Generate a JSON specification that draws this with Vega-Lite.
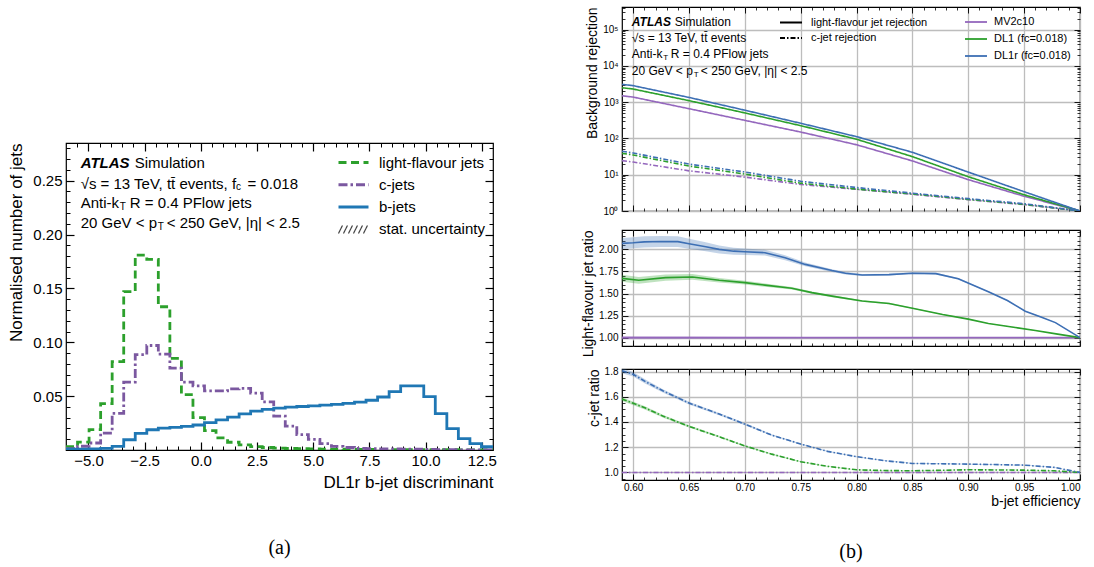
{
"$schema": "https://vega.github.io/schema/vega-lite/v6.json",
"background": "white",
"padding": {"left": 7, "top": 5, "right": 5, "bottom": 5},
"datasets": {
"hist": [
{"x": -6, "light-flavour jets": 0.003, "c-jets": 0.0012, "b-jets": 0.0008},
{"x": -5.486, "light-flavour jets": 0.0074, "c-jets": 0.0035, "b-jets": 0.0008},
{"x": -4.973, "light-flavour jets": 0.019, "c-jets": 0.0065, "b-jets": 0.001},
{"x": -4.459, "light-flavour jets": 0.043, "c-jets": 0.0157, "b-jets": 0.0015},
{"x": -3.946, "light-flavour jets": 0.082, "c-jets": 0.034, "b-jets": 0.0034},
{"x": -3.432, "light-flavour jets": 0.147, "c-jets": 0.063, "b-jets": 0.0095},
{"x": -2.919, "light-flavour jets": 0.181, "c-jets": 0.0886, "b-jets": 0.0155},
{"x": -2.405, "light-flavour jets": 0.177, "c-jets": 0.097, "b-jets": 0.0188},
{"x": -1.892, "light-flavour jets": 0.133, "c-jets": 0.089, "b-jets": 0.0203},
{"x": -1.378, "light-flavour jets": 0.085, "c-jets": 0.076, "b-jets": 0.021},
{"x": -0.865, "light-flavour jets": 0.0515, "c-jets": 0.063, "b-jets": 0.022},
{"x": -0.351, "light-flavour jets": 0.030, "c-jets": 0.0595, "b-jets": 0.0232},
{"x": 0.162, "light-flavour jets": 0.018, "c-jets": 0.0548, "b-jets": 0.0255},
{"x": 0.676, "light-flavour jets": 0.0113, "c-jets": 0.0548, "b-jets": 0.028},
{"x": 1.189, "light-flavour jets": 0.0072, "c-jets": 0.0568, "b-jets": 0.0306},
{"x": 1.703, "light-flavour jets": 0.0047, "c-jets": 0.0572, "b-jets": 0.0336},
{"x": 2.216, "light-flavour jets": 0.0031, "c-jets": 0.0528, "b-jets": 0.036},
{"x": 2.73, "light-flavour jets": 0.0023, "c-jets": 0.0447, "b-jets": 0.0378},
{"x": 3.243, "light-flavour jets": 0.0018, "c-jets": 0.0315, "b-jets": 0.0389},
{"x": 3.757, "light-flavour jets": 0.0014, "c-jets": 0.0222, "b-jets": 0.0398},
{"x": 4.27, "light-flavour jets": 0.0012, "c-jets": 0.0143, "b-jets": 0.0404},
{"x": 4.784, "light-flavour jets": 0.001, "c-jets": 0.0098, "b-jets": 0.041},
{"x": 5.297, "light-flavour jets": 0.0009, "c-jets": 0.0059, "b-jets": 0.0417},
{"x": 5.811, "light-flavour jets": 0.0008, "c-jets": 0.0034, "b-jets": 0.0423},
{"x": 6.324, "light-flavour jets": 0.0007, "c-jets": 0.0023, "b-jets": 0.0432},
{"x": 6.838, "light-flavour jets": 0.0006, "c-jets": 0.0016, "b-jets": 0.0445},
{"x": 7.351, "light-flavour jets": 0.0005, "c-jets": 0.0013, "b-jets": 0.0462},
{"x": 7.865, "light-flavour jets": 0.0005, "c-jets": 0.0011, "b-jets": 0.0492},
{"x": 8.378, "light-flavour jets": 0.0004, "c-jets": 0.001, "b-jets": 0.0542},
{"x": 8.892, "light-flavour jets": 0.0004, "c-jets": 0.0009, "b-jets": 0.0596},
{"x": 9.405, "light-flavour jets": 0.0004, "c-jets": 0.0008, "b-jets": 0.0596},
{"x": 9.919, "light-flavour jets": 0.0003, "c-jets": 0.0006, "b-jets": 0.0495},
{"x": 10.432, "light-flavour jets": 0.0003, "c-jets": 0.0004, "b-jets": 0.0338},
{"x": 10.946, "light-flavour jets": 0.0003, "c-jets": 0.0003, "b-jets": 0.0198},
{"x": 11.459, "light-flavour jets": 0.0002, "c-jets": 0.0002, "b-jets": 0.0105},
{"x": 11.973, "light-flavour jets": 0.0002, "c-jets": 0.0002, "b-jets": 0.006},
{"x": 12.486, "light-flavour jets": 0.0002, "c-jets": 0.0001, "b-jets": 0.003},
{"x": 13, "light-flavour jets": 0.0002, "c-jets": 0.0001, "b-jets": 0.003}
],
"rej": [
{"eff": 0.59, "tagger": "MV2c10", "light-flavour jet rejection": 1500, "c-jet rejection": 24.5},
{"eff": 0.6, "tagger": "MV2c10", "light-flavour jet rejection": 1380, "c-jet rejection": 22.4},
{"eff": 0.65, "tagger": "MV2c10", "light-flavour jet rejection": 660, "c-jet rejection": 12.8},
{"eff": 0.7, "tagger": "MV2c10", "light-flavour jet rejection": 315, "c-jet rejection": 8.6},
{"eff": 0.75, "tagger": "MV2c10", "light-flavour jet rejection": 150, "c-jet rejection": 5.4},
{"eff": 0.8, "tagger": "MV2c10", "light-flavour jet rejection": 67, "c-jet rejection": 3.95},
{"eff": 0.85, "tagger": "MV2c10", "light-flavour jet rejection": 24, "c-jet rejection": 2.9},
{"eff": 0.9, "tagger": "MV2c10", "light-flavour jet rejection": 7.3, "c-jet rejection": 2.05},
{"eff": 0.95, "tagger": "MV2c10", "light-flavour jet rejection": 2.55, "c-jet rejection": 1.5},
{"eff": 1.0, "tagger": "MV2c10", "light-flavour jet rejection": 1, "c-jet rejection": 1},
{"eff": 0.59, "tagger": "DL1", "light-flavour jet rejection": 2500, "c-jet rejection": 38.8},
{"eff": 0.6, "tagger": "DL1", "light-flavour jet rejection": 2300, "c-jet rejection": 35.0},
{"eff": 0.65, "tagger": "DL1", "light-flavour jet rejection": 1100, "c-jet rejection": 17.3},
{"eff": 0.7, "tagger": "DL1", "light-flavour jet rejection": 505, "c-jet rejection": 10.4},
{"eff": 0.75, "tagger": "DL1", "light-flavour jet rejection": 225, "c-jet rejection": 5.85},
{"eff": 0.8, "tagger": "DL1", "light-flavour jet rejection": 95, "c-jet rejection": 4.03},
{"eff": 0.85, "tagger": "DL1", "light-flavour jet rejection": 31.5, "c-jet rejection": 2.94},
{"eff": 0.9, "tagger": "DL1", "light-flavour jet rejection": 8.8, "c-jet rejection": 2.09},
{"eff": 0.95, "tagger": "DL1", "light-flavour jet rejection": 2.8, "c-jet rejection": 1.53},
{"eff": 1.0, "tagger": "DL1", "light-flavour jet rejection": 1, "c-jet rejection": 1},
{"eff": 0.59, "tagger": "DL1r", "light-flavour jet rejection": 3100, "c-jet rejection": 44.3},
{"eff": 0.6, "tagger": "DL1r", "light-flavour jet rejection": 2850, "c-jet rejection": 39.8},
{"eff": 0.65, "tagger": "DL1r", "light-flavour jet rejection": 1350, "c-jet rejection": 19.6},
{"eff": 0.7, "tagger": "DL1r", "light-flavour jet rejection": 600, "c-jet rejection": 11.9},
{"eff": 0.75, "tagger": "DL1r", "light-flavour jet rejection": 262, "c-jet rejection": 6.6},
{"eff": 0.8, "tagger": "DL1r", "light-flavour jet rejection": 112, "c-jet rejection": 4.44},
{"eff": 0.85, "tagger": "DL1r", "light-flavour jet rejection": 41.5, "c-jet rejection": 3.1},
{"eff": 0.9, "tagger": "DL1r", "light-flavour jet rejection": 11.8, "c-jet rejection": 2.19},
{"eff": 0.95, "tagger": "DL1r", "light-flavour jet rejection": 3.4, "c-jet rejection": 1.59},
{"eff": 1.0, "tagger": "DL1r", "light-flavour jet rejection": 1, "c-jet rejection": 1}
],
"lr": [
{"eff": 0.59, "tagger": "MV2c10", "r": 1, "lo": 0.982, "hi": 1.018},
{"eff": 0.65, "tagger": "MV2c10", "r": 1, "lo": 0.984, "hi": 1.016},
{"eff": 0.7, "tagger": "MV2c10", "r": 1, "lo": 0.99, "hi": 1.01},
{"eff": 0.75, "tagger": "MV2c10", "r": 1, "lo": 0.994, "hi": 1.006},
{"eff": 0.85, "tagger": "MV2c10", "r": 1, "lo": 0.997, "hi": 1.003},
{"eff": 1.0, "tagger": "MV2c10", "r": 1, "lo": 1, "hi": 1},
{"eff": 0.59, "tagger": "DL1", "r": 1.672, "lo": 1.632, "hi": 1.712},
{"eff": 0.605, "tagger": "DL1", "r": 1.65, "lo": 1.612, "hi": 1.688},
{"eff": 0.629, "tagger": "DL1", "r": 1.68, "lo": 1.645, "hi": 1.715},
{"eff": 0.653, "tagger": "DL1", "r": 1.688, "lo": 1.656, "hi": 1.72},
{"eff": 0.677, "tagger": "DL1", "r": 1.65, "lo": 1.625, "hi": 1.675},
{"eff": 0.7, "tagger": "DL1", "r": 1.623, "lo": 1.601, "hi": 1.645},
{"eff": 0.718, "tagger": "DL1", "r": 1.595, "lo": 1.576, "hi": 1.614},
{"eff": 0.742, "tagger": "DL1", "r": 1.56, "lo": 1.545, "hi": 1.575},
{"eff": 0.76, "tagger": "DL1", "r": 1.51, "lo": 1.497, "hi": 1.523},
{"eff": 0.778, "tagger": "DL1", "r": 1.47, "lo": 1.459, "hi": 1.481},
{"eff": 0.805, "tagger": "DL1", "r": 1.416, "lo": 1.407, "hi": 1.425},
{"eff": 0.829, "tagger": "DL1", "r": 1.386, "lo": 1.378, "hi": 1.394},
{"eff": 0.85, "tagger": "DL1", "r": 1.333, "lo": 1.326, "hi": 1.34},
{"eff": 0.877, "tagger": "DL1", "r": 1.262, "lo": 1.256, "hi": 1.268},
{"eff": 0.9, "tagger": "DL1", "r": 1.21, "lo": 1.205, "hi": 1.215},
{"eff": 0.918, "tagger": "DL1", "r": 1.16, "lo": 1.156, "hi": 1.164},
{"eff": 0.942, "tagger": "DL1", "r": 1.115, "lo": 1.111, "hi": 1.119},
{"eff": 0.96, "tagger": "DL1", "r": 1.08, "lo": 1.077, "hi": 1.083},
{"eff": 0.98, "tagger": "DL1", "r": 1.04, "lo": 1.038, "hi": 1.042},
{"eff": 1.0, "tagger": "DL1", "r": 1, "lo": 1, "hi": 1},
{"eff": 0.59, "tagger": "DL1r", "r": 2.068, "lo": 2.005, "hi": 2.13},
{"eff": 0.6, "tagger": "DL1r", "r": 2.075, "lo": 2.012, "hi": 2.138},
{"eff": 0.61, "tagger": "DL1r", "r": 2.085, "lo": 2.022, "hi": 2.148},
{"eff": 0.625, "tagger": "DL1r", "r": 2.09, "lo": 2.027, "hi": 2.153},
{"eff": 0.64, "tagger": "DL1r", "r": 2.088, "lo": 2.027, "hi": 2.149},
{"eff": 0.65, "tagger": "DL1r", "r": 2.065, "lo": 2.008, "hi": 2.122},
{"eff": 0.665, "tagger": "DL1r", "r": 2.03, "lo": 1.978, "hi": 2.082},
{"eff": 0.677, "tagger": "DL1r", "r": 2.0, "lo": 1.955, "hi": 2.045},
{"eff": 0.69, "tagger": "DL1r", "r": 1.98, "lo": 1.94, "hi": 2.02},
{"eff": 0.7, "tagger": "DL1r", "r": 1.974, "lo": 1.937, "hi": 2.011},
{"eff": 0.718, "tagger": "DL1r", "r": 1.963, "lo": 1.93, "hi": 1.996},
{"eff": 0.736, "tagger": "DL1r", "r": 1.906, "lo": 1.878, "hi": 1.934},
{"eff": 0.754, "tagger": "DL1r", "r": 1.83, "lo": 1.808, "hi": 1.852},
{"eff": 0.778, "tagger": "DL1r", "r": 1.76, "lo": 1.744, "hi": 1.776},
{"eff": 0.79, "tagger": "DL1r", "r": 1.73, "lo": 1.716, "hi": 1.744},
{"eff": 0.805, "tagger": "DL1r", "r": 1.71, "lo": 1.698, "hi": 1.722},
{"eff": 0.829, "tagger": "DL1r", "r": 1.714, "lo": 1.703, "hi": 1.725},
{"eff": 0.85, "tagger": "DL1r", "r": 1.73, "lo": 1.72, "hi": 1.74},
{"eff": 0.871, "tagger": "DL1r", "r": 1.725, "lo": 1.716, "hi": 1.734},
{"eff": 0.891, "tagger": "DL1r", "r": 1.668, "lo": 1.66, "hi": 1.676},
{"eff": 0.918, "tagger": "DL1r", "r": 1.52, "lo": 1.513, "hi": 1.527},
{"eff": 0.935, "tagger": "DL1r", "r": 1.42, "lo": 1.414, "hi": 1.426},
{"eff": 0.951, "tagger": "DL1r", "r": 1.3, "lo": 1.295, "hi": 1.305},
{"eff": 0.965, "tagger": "DL1r", "r": 1.235, "lo": 1.231, "hi": 1.239},
{"eff": 0.978, "tagger": "DL1r", "r": 1.17, "lo": 1.167, "hi": 1.173},
{"eff": 1.0, "tagger": "DL1r", "r": 1, "lo": 1, "hi": 1}
],
"cr": [
{"eff": 0.59, "tagger": "MV2c10", "r": 1, "lo": 0.996, "hi": 1.004},
{"eff": 1.0, "tagger": "MV2c10", "r": 1, "lo": 1, "hi": 1},
{"eff": 0.59, "tagger": "DL1", "r": 1.582, "lo": 1.567, "hi": 1.597},
{"eff": 0.611, "tagger": "DL1", "r": 1.51, "lo": 1.497, "hi": 1.523},
{"eff": 0.627, "tagger": "DL1", "r": 1.445, "lo": 1.434, "hi": 1.456},
{"eff": 0.65, "tagger": "DL1", "r": 1.365, "lo": 1.356, "hi": 1.374},
{"eff": 0.677, "tagger": "DL1", "r": 1.283, "lo": 1.276, "hi": 1.29},
{"eff": 0.7, "tagger": "DL1", "r": 1.21, "lo": 1.204, "hi": 1.216},
{"eff": 0.724, "tagger": "DL1", "r": 1.145, "lo": 1.14, "hi": 1.15},
{"eff": 0.75, "tagger": "DL1", "r": 1.085, "lo": 1.081, "hi": 1.089},
{"eff": 0.774, "tagger": "DL1", "r": 1.048, "lo": 1.045, "hi": 1.051},
{"eff": 0.8, "tagger": "DL1", "r": 1.021, "lo": 1.018, "hi": 1.024},
{"eff": 0.825, "tagger": "DL1", "r": 1.015, "lo": 1.013, "hi": 1.017},
{"eff": 0.85, "tagger": "DL1", "r": 1.013, "lo": 1.011, "hi": 1.015},
{"eff": 0.9, "tagger": "DL1", "r": 1.021, "lo": 1.019, "hi": 1.023},
{"eff": 0.95, "tagger": "DL1", "r": 1.018, "lo": 1.016, "hi": 1.02},
{"eff": 0.977, "tagger": "DL1", "r": 1.013, "lo": 1.011, "hi": 1.015},
{"eff": 1.0, "tagger": "DL1", "r": 1, "lo": 1, "hi": 1},
{"eff": 0.59, "tagger": "DL1r", "r": 1.807, "lo": 1.787, "hi": 1.827},
{"eff": 0.6, "tagger": "DL1r", "r": 1.778, "lo": 1.76, "hi": 1.796},
{"eff": 0.611, "tagger": "DL1r", "r": 1.72, "lo": 1.704, "hi": 1.736},
{"eff": 0.627, "tagger": "DL1r", "r": 1.645, "lo": 1.632, "hi": 1.658},
{"eff": 0.65, "tagger": "DL1r", "r": 1.55, "lo": 1.539, "hi": 1.561},
{"eff": 0.677, "tagger": "DL1r", "r": 1.463, "lo": 1.454, "hi": 1.472},
{"eff": 0.7, "tagger": "DL1r", "r": 1.383, "lo": 1.375, "hi": 1.391},
{"eff": 0.724, "tagger": "DL1r", "r": 1.296, "lo": 1.29, "hi": 1.302},
{"eff": 0.75, "tagger": "DL1r", "r": 1.225, "lo": 1.22, "hi": 1.23},
{"eff": 0.774, "tagger": "DL1r", "r": 1.167, "lo": 1.163, "hi": 1.171},
{"eff": 0.8, "tagger": "DL1r", "r": 1.125, "lo": 1.121, "hi": 1.129},
{"eff": 0.825, "tagger": "DL1r", "r": 1.093, "lo": 1.09, "hi": 1.096},
{"eff": 0.85, "tagger": "DL1r", "r": 1.071, "lo": 1.068, "hi": 1.074},
{"eff": 0.9, "tagger": "DL1r", "r": 1.066, "lo": 1.063, "hi": 1.069},
{"eff": 0.95, "tagger": "DL1r", "r": 1.058, "lo": 1.055, "hi": 1.061},
{"eff": 0.977, "tagger": "DL1r", "r": 1.04, "lo": 1.037, "hi": 1.043},
{"eff": 1.0, "tagger": "DL1r", "r": 1, "lo": 1, "hi": 1}
]
},
"config": {
"font": "Liberation Sans",
"view": {"stroke": "#000", "strokeWidth": 1.2},
"axis": {"grid": false, "domain": false, "tickColor": "#000", "labelColor": "#000", "titleColor": "#000", "titleFontWeight": "normal", "labelOverlap": false, "labelFont": "Liberation Sans", "titleFont": "Liberation Sans"},
"legend": {"labelFont": "Liberation Sans", "labelColor": "#000"},
"title": {"font": "Liberation Serif", "fontSize": 20, "fontWeight": "normal", "color": "#000"}
},
"resolve": {"scale": {"color": "independent", "strokeDash": "independent"}},
"spacing": 83,
"hconcat": [
{
"spacing": 0,
"resolve": {"scale": {"color": "independent", "strokeDash": "independent"}},
"vconcat": [
{"width": 427, "height": 134, "view": {"stroke": null}, "data": {"values": [{}]}, "mark": {"type": "point", "opacity": 0}, "encoding": {}},
{
"width": 427, "height": 307,
"title": {"text": "(a)", "orient": "bottom", "offset": 48, "anchor": "middle", "frame": "group"},
"data": {"values": [{}]},
"layer": [
{
"data": {"name": "hist"},
"transform": [{"fold": ["light-flavour jets", "c-jets", "b-jets"], "as": ["jets", "y"]}],
"mark": {"type": "line", "interpolate": "step-after", "strokeWidth": 2.8, "clip": true},
"encoding": {
"x": {"field": "x", "type": "quantitative", "scale": {"domain": [-6, 13], "nice": false, "zero": false},
"axis": {"orient": "bottom", "values": [-5, -2.5, 0, 2.5, 5, 7.5, 10, 12.5], "format": ".1f", "tickSize": -8, "tickWidth": 1.2, "labelPadding": 11, "labelFontSize": 15, "labelFlush": true, "title": "DL1r b-jet discriminant", "titleFontSize": 17, "titleAnchor": "end", "titlePadding": 6}},
"y": {"field": "y", "type": "quantitative", "scale": {"domain": [0, 0.285], "nice": false, "zero": false},
"axis": {"orient": "left", "values": [0.05, 0.1, 0.15, 0.2, 0.25], "format": ".2f", "tickSize": -8, "tickWidth": 1.2, "labelPadding": 12, "labelFontSize": 15, "title": "Normalised number of jets", "titleFontSize": 17, "titleAnchor": "end", "titlePadding": 7}},
"color": {"field": "jets", "type": "nominal",
"scale": {"domain": ["light-flavour jets", "c-jets", "b-jets", "stat. uncertainty"], "range": ["#2ca02c", "#7b58a0", "#1f77b4", "#444444"]},
"legend": {"title": null, "orient": "none", "legendX": 280, "legendY": 12, "symbolType": "M-3,0H3", "symbolSize": 100, "symbolStrokeWidth": 3, "labelFontSize": 15, "labelOffset": 18, "rowPadding": 6.3, "padding": 0, "labelLimit": 300,
"encode": {"symbols": {"update": {"shape": {"signal": "datum.label === 'stat. uncertainty' ? 'M-3,0.8L-2.2,-0.8M-2,0.8L-1.2,-0.8M-1,0.8L-0.2,-0.8M0,0.8L0.8,-0.8M1,0.8L1.8,-0.8M2,0.8L2.8,-0.8' : 'M-3,0H3'"}, "strokeWidth": {"signal": "datum.label === 'stat. uncertainty' ? 1.2 : 3"}}}}}},
"strokeDash": {"field": "jets", "type": "nominal",
"scale": {"domain": ["light-flavour jets", "c-jets", "b-jets", "stat. uncertainty"], "range": [[8, 4.5], [9, 3, 2.5, 3], [1, 0], [1, 0]]},
"legend": {"title": null, "orient": "none", "legendX": 280, "legendY": 12, "symbolType": "M-3,0H3", "symbolSize": 100, "symbolStrokeWidth": 3, "labelFontSize": 15, "labelOffset": 18, "rowPadding": 6.3, "padding": 0, "labelLimit": 300,
"encode": {"symbols": {"update": {"shape": {"signal": "datum.label === 'stat. uncertainty' ? 'M-3,0.8L-2.2,-0.8M-2,0.8L-1.2,-0.8M-1,0.8L-0.2,-0.8M0,0.8L0.8,-0.8M1,0.8L1.8,-0.8M2,0.8L2.8,-0.8' : 'M-3,0H3'"}, "strokeWidth": {"signal": "datum.label === 'stat. uncertainty' ? 1.2 : 3"}}}}}}
}
},
{
"data": {"name": "hist"},
"mark": {"type": "point", "opacity": 0},
"encoding": {
"x": {"field": "x", "type": "quantitative", "scale": {"domain": [-6, 13], "nice": false, "zero": false}, "axis": {"orient": "top", "values": [-5, -2.5, 0, 2.5, 5, 7.5, 10, 12.5], "tickSize": -8, "tickWidth": 1.2, "labels": false, "title": null}},
"y": {"field": "b-jets", "type": "quantitative", "scale": {"domain": [0, 0.285], "nice": false, "zero": false}, "axis": {"orient": "right", "values": [0.05, 0.1, 0.15, 0.2, 0.25], "tickSize": -8, "tickWidth": 1.2, "labels": false, "title": null}}
}
},
{
"data": {"name": "hist"},
"mark": {"type": "point", "opacity": 0},
"encoding": {
"x": {"field": "x", "type": "quantitative", "scale": {"domain": [-6, 13], "nice": false, "zero": false}, "axis": {"orient": "bottom", "values": [-5.5, -5, -4.5, -4, -3.5, -3, -2.5, -2, -1.5, -1, -0.5, 0, 0.5, 1, 1.5, 2, 2.5, 3, 3.5, 4, 4.5, 5, 5.5, 6, 6.5, 7, 7.5, 8, 8.5, 9, 9.5, 10, 10.5, 11, 11.5, 12, 12.5], "tickSize": -4, "labels": false, "title": null}},
"y": {"field": "b-jets", "type": "quantitative", "scale": {"domain": [0, 0.285], "nice": false, "zero": false}, "axis": {"orient": "left", "values": [0.01, 0.02, 0.03, 0.04, 0.05, 0.06, 0.07, 0.08, 0.09, 0.1, 0.11, 0.12, 0.13, 0.14, 0.15, 0.16, 0.17, 0.18, 0.19, 0.2, 0.21, 0.22, 0.23, 0.24, 0.25, 0.26, 0.27, 0.28], "tickSize": -4, "labels": false, "title": null}}
}
},
{
"data": {"name": "hist"},
"mark": {"type": "point", "opacity": 0},
"encoding": {
"x": {"field": "x", "type": "quantitative", "scale": {"domain": [-6, 13], "nice": false, "zero": false}, "axis": {"orient": "top", "values": [-5.5, -5, -4.5, -4, -3.5, -3, -2.5, -2, -1.5, -1, -0.5, 0, 0.5, 1, 1.5, 2, 2.5, 3, 3.5, 4, 4.5, 5, 5.5, 6, 6.5, 7, 7.5, 8, 8.5, 9, 9.5, 10, 10.5, 11, 11.5, 12, 12.5], "tickSize": -4, "labels": false, "title": null}},
"y": {"field": "b-jets", "type": "quantitative", "scale": {"domain": [0, 0.285], "nice": false, "zero": false}, "axis": {"orient": "right", "values": [0.01, 0.02, 0.03, 0.04, 0.05, 0.06, 0.07, 0.08, 0.09, 0.1, 0.11, 0.12, 0.13, 0.14, 0.15, 0.16, 0.17, 0.18, 0.19, 0.2, 0.21, 0.22, 0.23, 0.24, 0.25, 0.26, 0.27, 0.28], "tickSize": -4, "labels": false, "title": null}}
}
},
{"mark": {"type": "text", "align": "left", "baseline": "middle", "fontSize": 15, "fontWeight": "bold", "fontStyle": "italic", "text": "ATLAS"},
"encoding": {"x": {"datum": -5.346, "type": "quantitative", "axis": null}, "y": {"datum": 0.2664, "type": "quantitative", "axis": null}}},
{"mark": {"type": "text", "align": "left", "baseline": "middle", "fontSize": 15, "text": "Simulation"},
"encoding": {"x": {"datum": -2.943, "type": "quantitative", "axis": null}, "y": {"datum": 0.2664, "type": "quantitative", "axis": null}}},
{"mark": {"type": "text", "align": "left", "baseline": "middle", "fontSize": 15, "text": "√s = 13 TeV, tt̄ events, f"},
"encoding": {"x": {"datum": -5.346, "type": "quantitative", "axis": null}, "y": {"datum": 0.2474, "type": "quantitative", "axis": null}}},
{"mark": {"type": "text", "align": "left", "baseline": "middle", "fontSize": 10, "text": "c"},
"encoding": {"x": {"datum": 1.56, "type": "quantitative", "axis": null}, "y": {"datum": 0.2442, "type": "quantitative", "axis": null}}},
{"mark": {"type": "text", "align": "left", "baseline": "middle", "fontSize": 15, "text": "= 0.018"},
"encoding": {"x": {"datum": 2.08, "type": "quantitative", "axis": null}, "y": {"datum": 0.2474, "type": "quantitative", "axis": null}}},
{"mark": {"type": "text", "align": "left", "baseline": "middle", "fontSize": 15, "text": "Anti-k"},
"encoding": {"x": {"datum": -5.346, "type": "quantitative", "axis": null}, "y": {"datum": 0.2296, "type": "quantitative", "axis": null}}},
{"mark": {"type": "text", "align": "left", "baseline": "middle", "fontSize": 10, "text": "T"},
"encoding": {"x": {"datum": -3.606, "type": "quantitative", "axis": null}, "y": {"datum": 0.2259, "type": "quantitative", "axis": null}}},
{"mark": {"type": "text", "align": "left", "baseline": "middle", "fontSize": 15, "text": "R = 0.4 PFlow jets"},
"encoding": {"x": {"datum": -3.165, "type": "quantitative", "axis": null}, "y": {"datum": 0.2296, "type": "quantitative", "axis": null}}},
{"mark": {"type": "text", "align": "left", "baseline": "middle", "fontSize": 15, "text": "20 GeV < p"},
"encoding": {"x": {"datum": -5.346, "type": "quantitative", "axis": null}, "y": {"datum": 0.2108, "type": "quantitative", "axis": null}}},
{"mark": {"type": "text", "align": "left", "baseline": "middle", "fontSize": 10, "text": "T"},
"encoding": {"x": {"datum": -1.918, "type": "quantitative", "axis": null}, "y": {"datum": 0.2071, "type": "quantitative", "axis": null}}},
{"mark": {"type": "text", "align": "left", "baseline": "middle", "fontSize": 15, "text": "< 250 GeV, |η| < 2.5"},
"encoding": {"x": {"datum": -1.518, "type": "quantitative", "axis": null}, "y": {"datum": 0.2108, "type": "quantitative", "axis": null}}}
]
}
]
},
{
"spacing": 11,
"resolve": {"scale": {"color": "independent", "strokeDash": "independent"}},
"vconcat": [
{
"width": 458, "height": 204,
"data": {"values": [{}]},
"layer": [
{
"data": {"name": "rej"},
"transform": [{"fold": ["light-flavour jet rejection", "c-jet rejection"], "as": ["type", "rej"]}],
"mark": {"type": "line", "strokeWidth": 1.6, "clip": true},
"encoding": {
"x": {"field": "eff", "type": "quantitative", "scale": {"domain": [0.59, 1.0], "nice": false, "zero": false},
"axis": {"orient": "bottom", "values": [0.6, 0.65, 0.7, 0.75, 0.8, 0.85, 0.9, 0.95, 1.0], "labels": false, "tickSize": -6, "tickWidth": 0.9, "grid": true, "gridColor": "#bdbdbd", "gridWidth": 1.3, "title": null}},
"y": {"field": "rej", "type": "quantitative", "scale": {"type": "log", "domain": [1, 420000], "nice": false},
"axis": {"orient": "left", "values": [1, 10, 100, 1000, 10000, 100000], "labelExpr": "'10' + ['⁰','¹','²','³','⁴','⁵'][round(log(datum.value)/LN10)]", "labelFontSize": 10, "tickSize": -6, "tickWidth": 0.9, "labelPadding": 10, "grid": true, "gridColor": "#bdbdbd", "gridWidth": 1.3, "title": "Background rejection", "titleFontSize": 14, "titleAnchor": "end", "titlePadding": 3}},
"color": {"field": "tagger", "type": "nominal", "scale": {"domain": ["MV2c10", "DL1", "DL1r"], "range": ["#9467bd", "#2ca02c", "#3d6fb4"]},
"legend": {"title": null, "orient": "none", "legendX": 348, "legendY": 9, "symbolType": "M-2.2,0H2.2", "symbolSize": 100, "symbolStrokeWidth": 1.8, "labelFontSize": 11, "labelOffset": 12, "rowPadding": 6, "padding": 0, "labelLimit": 300, "labelExpr": "datum.label == 'MV2c10' ? 'MV2c10' : datum.label + ' (fc=0.018)'"}},
"strokeDash": {"field": "type", "type": "nominal", "scale": {"domain": ["light-flavour jet rejection", "c-jet rejection"], "range": [[1, 0], [5, 2, 1.5, 2]]},
"legend": {"title": null, "orient": "none", "legendX": 163, "legendY": 9.5, "symbolType": "M-2.2,0H2.2", "symbolSize": 100, "symbolStrokeWidth": 1.8, "symbolStrokeColor": "#000", "labelFontSize": 11, "labelOffset": 14, "rowPadding": 4.5, "padding": 0, "labelLimit": 300,
"encode": {"symbols": {"update": {"stroke": {"value": "#000"}}}}}}
}
},
{
"data": {"name": "rej"},
"mark": {"type": "point", "opacity": 0},
"encoding": {
"x": {"field": "eff", "type": "quantitative", "scale": {"domain": [0.59, 1.0], "nice": false, "zero": false}, "axis": {"orient": "top", "values": [0.6, 0.65, 0.7, 0.75, 0.8, 0.85, 0.9, 0.95, 1.0], "labels": false, "tickSize": -6, "tickWidth": 0.9, "title": null}},
"y": {"field": "c-jet rejection", "type": "quantitative", "scale": {"type": "log", "domain": [1, 420000], "nice": false}, "axis": {"orient": "right", "values": [1, 10, 100, 1000, 10000, 100000], "labels": false, "tickSize": -6, "tickWidth": 0.9, "title": null}}
}
},
{
"data": {"name": "rej"},
"mark": {"type": "point", "opacity": 0},
"encoding": {
"x": {"field": "eff", "type": "quantitative", "scale": {"domain": [0.59, 1.0], "nice": false, "zero": false}, "axis": {"orient": "bottom", "values": [0.6, 0.61, 0.62, 0.63, 0.64, 0.65, 0.66, 0.67, 0.68, 0.69, 0.7, 0.71, 0.72, 0.73, 0.74, 0.75, 0.76, 0.77, 0.78, 0.79, 0.8, 0.81, 0.82, 0.83, 0.84, 0.85, 0.86, 0.87, 0.88, 0.89, 0.9, 0.91, 0.92, 0.93, 0.94, 0.95, 0.96, 0.97, 0.98, 0.99], "labels": false, "tickSize": -3, "tickWidth": 0.8, "title": null}},
"y": {"field": "c-jet rejection", "type": "quantitative", "scale": {"type": "log", "domain": [1, 420000], "nice": false}, "axis": {"orient": "left", "values": [2, 3, 4, 5, 6, 7, 8, 9, 20, 30, 40, 50, 60, 70, 80, 90, 200, 300, 400, 500, 600, 700, 800, 900, 2000, 3000, 4000, 5000, 6000, 7000, 8000, 9000, 20000, 30000, 40000, 50000, 60000, 70000, 80000, 90000, 200000, 300000, 400000], "labels": false, "tickSize": -3, "tickWidth": 0.8, "title": null}}
}
},
{
"data": {"name": "rej"},
"mark": {"type": "point", "opacity": 0},
"encoding": {
"x": {"field": "eff", "type": "quantitative", "scale": {"domain": [0.59, 1.0], "nice": false, "zero": false}, "axis": {"orient": "top", "values": [0.6, 0.61, 0.62, 0.63, 0.64, 0.65, 0.66, 0.67, 0.68, 0.69, 0.7, 0.71, 0.72, 0.73, 0.74, 0.75, 0.76, 0.77, 0.78, 0.79, 0.8, 0.81, 0.82, 0.83, 0.84, 0.85, 0.86, 0.87, 0.88, 0.89, 0.9, 0.91, 0.92, 0.93, 0.94, 0.95, 0.96, 0.97, 0.98, 0.99], "labels": false, "tickSize": -3, "tickWidth": 0.8, "title": null}},
"y": {"field": "c-jet rejection", "type": "quantitative", "scale": {"type": "log", "domain": [1, 420000], "nice": false}, "axis": {"orient": "right", "values": [2, 3, 4, 5, 6, 7, 8, 9, 20, 30, 40, 50, 60, 70, 80, 90, 200, 300, 400, 500, 600, 700, 800, 900, 2000, 3000, 4000, 5000, 6000, 7000, 8000, 9000, 20000, 30000, 40000, 50000, 60000, 70000, 80000, 90000, 200000, 300000, 400000], "labels": false, "tickSize": -3, "tickWidth": 0.8, "title": null}}
}
},
{"mark": {"type": "text", "align": "left", "baseline": "middle", "fontSize": 12, "fontWeight": "bold", "fontStyle": "italic", "text": "ATLAS"},
"encoding": {"x": {"datum": 0.5988, "type": "quantitative", "axis": null}, "y": {"datum": 164000, "type": "quantitative", "axis": null}}},
{"mark": {"type": "text", "align": "left", "baseline": "middle", "fontSize": 12, "text": "Simulation"},
"encoding": {"x": {"datum": 0.6373, "type": "quantitative", "axis": null}, "y": {"datum": 164000, "type": "quantitative", "axis": null}}},
{"mark": {"type": "text", "align": "left", "baseline": "middle", "fontSize": 12, "text": "√s = 13 TeV, tt̄ events"},
"encoding": {"x": {"datum": 0.5988, "type": "quantitative", "axis": null}, "y": {"datum": 59400, "type": "quantitative", "axis": null}}},
{"mark": {"type": "text", "align": "left", "baseline": "middle", "fontSize": 12, "text": "Anti-k"},
"encoding": {"x": {"datum": 0.5988, "type": "quantitative", "axis": null}, "y": {"datum": 21500, "type": "quantitative", "axis": null}}},
{"mark": {"type": "text", "align": "left", "baseline": "middle", "fontSize": 8, "text": "T"},
"encoding": {"x": {"datum": 0.627, "type": "quantitative", "axis": null}, "y": {"datum": 16700, "type": "quantitative", "axis": null}}},
{"mark": {"type": "text", "align": "left", "baseline": "middle", "fontSize": 12, "text": "R = 0.4 PFlow jets"},
"encoding": {"x": {"datum": 0.6337, "type": "quantitative", "axis": null}, "y": {"datum": 21500, "type": "quantitative", "axis": null}}},
{"mark": {"type": "text", "align": "left", "baseline": "middle", "fontSize": 12, "text": "20 GeV < p"},
"encoding": {"x": {"datum": 0.5988, "type": "quantitative", "axis": null}, "y": {"datum": 7330, "type": "quantitative", "axis": null}}},
{"mark": {"type": "text", "align": "left", "baseline": "middle", "fontSize": 8, "text": "T"},
"encoding": {"x": {"datum": 0.6543, "type": "quantitative", "axis": null}, "y": {"datum": 5690, "type": "quantitative", "axis": null}}},
{"mark": {"type": "text", "align": "left", "baseline": "middle", "fontSize": 12, "text": "< 250 GeV, |η| < 2.5"},
"encoding": {"x": {"datum": 0.6606, "type": "quantitative", "axis": null}, "y": {"datum": 7330, "type": "quantitative", "axis": null}}}
]
},
{
"spacing": 7,
"resolve": {"scale": {"color": "independent", "strokeDash": "independent"}},
"vconcat": [
{
"width": 458, "height": 116,
"data": {"name": "lr"},
"layer": [
{
"mark": {"type": "area", "opacity": 0.3, "clip": true},
"encoding": {
"x": {"field": "eff", "type": "quantitative", "scale": {"domain": [0.59, 1.0], "nice": false, "zero": false}, "axis": null},
"y": {"field": "lo", "type": "quantitative", "scale": {"domain": [0.905, 2.22], "nice": false, "zero": false}, "axis": null},
"y2": {"field": "hi"},
"color": {"field": "tagger", "type": "nominal", "scale": {"domain": ["MV2c10", "DL1", "DL1r"], "range": ["#9467bd", "#2ca02c", "#3d6fb4"]}, "legend": null}
}
},
{
"mark": {"type": "line", "strokeWidth": 1.6, "clip": true},
"encoding": {
"x": {"field": "eff", "type": "quantitative", "scale": {"domain": [0.59, 1.0], "nice": false, "zero": false},
"axis": {"orient": "bottom", "values": [0.6, 0.65, 0.7, 0.75, 0.8, 0.85, 0.9, 0.95, 1.0], "labels": false, "tickSize": -6, "tickWidth": 0.9, "grid": true, "gridColor": "#bdbdbd", "gridWidth": 1.3, "title": null}},
"y": {"field": "r", "type": "quantitative", "scale": {"domain": [0.905, 2.22], "nice": false, "zero": false},
"axis": {"orient": "left", "values": [1, 1.25, 1.5, 1.75, 2], "format": ".2f", "labelFontSize": 10, "tickSize": -6, "tickWidth": 0.9, "labelPadding": 10, "grid": true, "gridColor": "#bdbdbd", "gridWidth": 1.3, "title": "Light-flavour jet ratio", "titleFontSize": 14, "titleAnchor": "end", "titlePadding": 3}},
"color": {"field": "tagger", "type": "nominal", "scale": {"domain": ["MV2c10", "DL1", "DL1r"], "range": ["#9467bd", "#2ca02c", "#3d6fb4"]}, "legend": null}
}
},
{
"mark": {"type": "point", "opacity": 0},
"encoding": {
"x": {"field": "eff", "type": "quantitative", "scale": {"domain": [0.59, 1.0], "nice": false, "zero": false}, "axis": {"orient": "top", "values": [0.6, 0.65, 0.7, 0.75, 0.8, 0.85, 0.9, 0.95, 1.0], "labels": false, "tickSize": -6, "tickWidth": 0.9, "title": null}},
"y": {"field": "r", "type": "quantitative", "scale": {"domain": [0.905, 2.22], "nice": false, "zero": false}, "axis": {"orient": "right", "values": [1, 1.25, 1.5, 1.75, 2], "labels": false, "tickSize": -6, "tickWidth": 0.9, "title": null}}
}
},
{
"mark": {"type": "point", "opacity": 0},
"encoding": {
"x": {"field": "eff", "type": "quantitative", "scale": {"domain": [0.59, 1.0], "nice": false, "zero": false}, "axis": {"orient": "bottom", "values": [0.6, 0.61, 0.62, 0.63, 0.64, 0.65, 0.66, 0.67, 0.68, 0.69, 0.7, 0.71, 0.72, 0.73, 0.74, 0.75, 0.76, 0.77, 0.78, 0.79, 0.8, 0.81, 0.82, 0.83, 0.84, 0.85, 0.86, 0.87, 0.88, 0.89, 0.9, 0.91, 0.92, 0.93, 0.94, 0.95, 0.96, 0.97, 0.98, 0.99], "labels": false, "tickSize": -3, "tickWidth": 0.8, "title": null}},
"y": {"field": "r", "type": "quantitative", "scale": {"domain": [0.905, 2.22], "nice": false, "zero": false}, "axis": {"orient": "left", "values": [0.95, 1.05, 1.1, 1.15, 1.2, 1.3, 1.35, 1.4, 1.45, 1.55, 1.6, 1.65, 1.7, 1.8, 1.85, 1.9, 1.95, 2.05, 2.1, 2.15, 2.2], "labels": false, "tickSize": -3, "tickWidth": 0.8, "title": null}}
}
},
{
"mark": {"type": "point", "opacity": 0},
"encoding": {
"x": {"field": "eff", "type": "quantitative", "scale": {"domain": [0.59, 1.0], "nice": false, "zero": false}, "axis": {"orient": "top", "values": [0.6, 0.61, 0.62, 0.63, 0.64, 0.65, 0.66, 0.67, 0.68, 0.69, 0.7, 0.71, 0.72, 0.73, 0.74, 0.75, 0.76, 0.77, 0.78, 0.79, 0.8, 0.81, 0.82, 0.83, 0.84, 0.85, 0.86, 0.87, 0.88, 0.89, 0.9, 0.91, 0.92, 0.93, 0.94, 0.95, 0.96, 0.97, 0.98, 0.99], "labels": false, "tickSize": -3, "tickWidth": 0.8, "title": null}},
"y": {"field": "r", "type": "quantitative", "scale": {"domain": [0.905, 2.22], "nice": false, "zero": false}, "axis": {"orient": "right", "values": [0.95, 1.05, 1.1, 1.15, 1.2, 1.3, 1.35, 1.4, 1.45, 1.55, 1.6, 1.65, 1.7, 1.8, 1.85, 1.9, 1.95, 2.05, 2.1, 2.15, 2.2], "labels": false, "tickSize": -3, "tickWidth": 0.8, "title": null}}
}
}
]
},
{
"width": 458, "height": 111,
"title": {"text": "(b)", "orient": "bottom", "offset": 34, "anchor": "middle", "frame": "group"},
"data": {"name": "cr"},
"layer": [
{
"mark": {"type": "area", "opacity": 0.3, "clip": true},
"encoding": {
"x": {"field": "eff", "type": "quantitative", "scale": {"domain": [0.59, 1.0], "nice": false, "zero": false}, "axis": null},
"y": {"field": "lo", "type": "quantitative", "scale": {"domain": [0.94, 1.82], "nice": false, "zero": false}, "axis": null},
"y2": {"field": "hi"},
"color": {"field": "tagger", "type": "nominal", "scale": {"domain": ["MV2c10", "DL1", "DL1r"], "range": ["#9467bd", "#2ca02c", "#3d6fb4"]}, "legend": null}
}
},
{
"mark": {"type": "line", "strokeWidth": 1.6, "strokeDash": [5, 2, 1.5, 2], "clip": true},
"encoding": {
"x": {"field": "eff", "type": "quantitative", "scale": {"domain": [0.59, 1.0], "nice": false, "zero": false},
"axis": {"orient": "bottom", "values": [0.6, 0.65, 0.7, 0.75, 0.8, 0.85, 0.9, 0.95, 1.0], "format": ".2f", "labelFontSize": 10, "labelPadding": 8, "labelFlush": true, "tickSize": -6, "tickWidth": 0.9, "grid": true, "gridColor": "#bdbdbd", "gridWidth": 1.3, "title": "b-jet efficiency", "titleFontSize": 14, "titleAnchor": "end", "titlePadding": 2}},
"y": {"field": "r", "type": "quantitative", "scale": {"domain": [0.94, 1.82], "nice": false, "zero": false},
"axis": {"orient": "left", "values": [1, 1.2, 1.4, 1.6, 1.8], "format": ".1f", "labelFontSize": 10, "tickSize": -6, "tickWidth": 0.9, "labelPadding": 10, "grid": true, "gridColor": "#bdbdbd", "gridWidth": 1.3, "title": "c-jet ratio", "titleFontSize": 14, "titleAnchor": "end", "titlePadding": 3}},
"color": {"field": "tagger", "type": "nominal", "scale": {"domain": ["MV2c10", "DL1", "DL1r"], "range": ["#9467bd", "#2ca02c", "#3d6fb4"]}, "legend": null}
}
},
{
"mark": {"type": "point", "opacity": 0},
"encoding": {
"x": {"field": "eff", "type": "quantitative", "scale": {"domain": [0.59, 1.0], "nice": false, "zero": false}, "axis": {"orient": "top", "values": [0.6, 0.65, 0.7, 0.75, 0.8, 0.85, 0.9, 0.95, 1.0], "labels": false, "tickSize": -6, "tickWidth": 0.9, "title": null}},
"y": {"field": "r", "type": "quantitative", "scale": {"domain": [0.94, 1.82], "nice": false, "zero": false}, "axis": {"orient": "right", "values": [1, 1.2, 1.4, 1.6, 1.8], "labels": false, "tickSize": -6, "tickWidth": 0.9, "title": null}}
}
},
{
"mark": {"type": "point", "opacity": 0},
"encoding": {
"x": {"field": "eff", "type": "quantitative", "scale": {"domain": [0.59, 1.0], "nice": false, "zero": false}, "axis": {"orient": "bottom", "values": [0.6, 0.61, 0.62, 0.63, 0.64, 0.65, 0.66, 0.67, 0.68, 0.69, 0.7, 0.71, 0.72, 0.73, 0.74, 0.75, 0.76, 0.77, 0.78, 0.79, 0.8, 0.81, 0.82, 0.83, 0.84, 0.85, 0.86, 0.87, 0.88, 0.89, 0.9, 0.91, 0.92, 0.93, 0.94, 0.95, 0.96, 0.97, 0.98, 0.99], "labels": false, "tickSize": -3, "tickWidth": 0.8, "title": null}},
"y": {"field": "r", "type": "quantitative", "scale": {"domain": [0.94, 1.82], "nice": false, "zero": false}, "axis": {"orient": "left", "values": [0.95, 1.05, 1.1, 1.15, 1.25, 1.3, 1.35, 1.45, 1.5, 1.55, 1.65, 1.7, 1.75], "labels": false, "tickSize": -3, "tickWidth": 0.8, "title": null}}
}
},
{
"mark": {"type": "point", "opacity": 0},
"encoding": {
"x": {"field": "eff", "type": "quantitative", "scale": {"domain": [0.59, 1.0], "nice": false, "zero": false}, "axis": {"orient": "top", "values": [0.6, 0.61, 0.62, 0.63, 0.64, 0.65, 0.66, 0.67, 0.68, 0.69, 0.7, 0.71, 0.72, 0.73, 0.74, 0.75, 0.76, 0.77, 0.78, 0.79, 0.8, 0.81, 0.82, 0.83, 0.84, 0.85, 0.86, 0.87, 0.88, 0.89, 0.9, 0.91, 0.92, 0.93, 0.94, 0.95, 0.96, 0.97, 0.98, 0.99], "labels": false, "tickSize": -3, "tickWidth": 0.8, "title": null}},
"y": {"field": "r", "type": "quantitative", "scale": {"domain": [0.94, 1.82], "nice": false, "zero": false}, "axis": {"orient": "right", "values": [0.95, 1.05, 1.1, 1.15, 1.25, 1.3, 1.35, 1.45, 1.5, 1.55, 1.65, 1.7, 1.75], "labels": false, "tickSize": -3, "tickWidth": 0.8, "title": null}}
}
}
]
}
]
}
]
}
]
}
